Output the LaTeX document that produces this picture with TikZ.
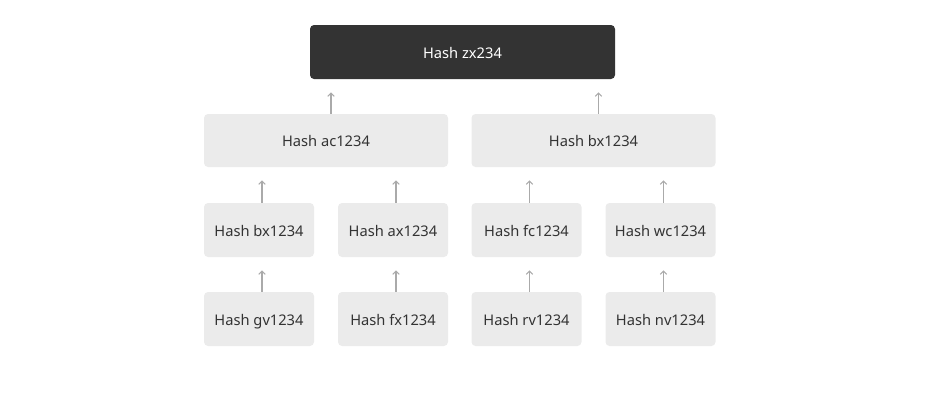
\documentclass[tikz,border=0pt]{standalone}
\usepackage{fontspec}
\setmainfont{Noto Sans}
\usetikzlibrary{arrows.meta}
\definecolor{darkbox}{HTML}{333333}
\definecolor{lightbox}{HTML}{EBEBEB}
\definecolor{txt}{HTML}{333333}
\definecolor{arrgray}{HTML}{AAAAAA}
\begin{document}
\begin{tikzpicture}[x=0.75pt,y=-0.75pt,
  base/.style={rounded corners=3pt, inner sep=0pt, font=\fontsize{11pt}{13pt}\selectfont, text=txt, fill=lightbox, text height=10pt, text depth=1pt},
  topbox/.style={base, fill=darkbox, text=white, minimum width=228.75pt, minimum height=40.5pt},
  midbox/.style={base, minimum width=183pt, minimum height=39.75pt},
  leafbox/.style={base, minimum width=82.5pt, minimum height=40.5pt},
  arr/.style={draw=arrgray, line width=0.8pt, -{Straight Barb[length=2.5pt,width=5pt]}}]
\useasboundingbox (0,0) rectangle (932,418);
\node[topbox] (top) at (462.5,52) {Hash zx234};
\node[midbox] (m1) at (326,140.5) {Hash ac1234};
\node[midbox] (m2) at (593.5,140.5) {Hash bx1234};
\node[leafbox] (a1) at (259,230) {Hash bx1234};
\node[leafbox] (a2) at (393,230) {Hash ax1234};
\node[leafbox] (a3) at (526.5,230) {Hash fc1234};
\node[leafbox] (a4) at (660.5,230) {Hash wc1234};
\node[leafbox] (b1) at (259,319) {Hash gv1234};
\node[leafbox] (b2) at (393,319) {Hash fx1234};
\node[leafbox] (b3) at (526.5,319) {Hash rv1234};
\node[leafbox] (b4) at (660.5,319) {Hash nv1234};
% arrows
\draw[arr, shorten >=9.75pt] ([xshift=3.75pt]m1.north) -- ([xshift=3.75pt]m1.north |- top.south);
\draw[arr, shorten >=9.75pt] ([xshift=3.75pt]m2.north) -- ([xshift=3.75pt]m2.north |- top.south);
\draw[arr, shorten >=9.75pt] ([xshift=2.25pt]a1.north) -- ([xshift=2.25pt]a1.north |- m1.south);
\draw[arr, shorten >=9.75pt] ([xshift=2.25pt]a2.north) -- ([xshift=2.25pt]a2.north |- m1.south);
\draw[arr, shorten >=9.75pt] ([xshift=2.25pt]a3.north) -- ([xshift=2.25pt]a3.north |- m2.south);
\draw[arr, shorten >=9.75pt] ([xshift=2.25pt]a4.north) -- ([xshift=2.25pt]a4.north |- m2.south);
\draw[arr, shorten >=9.75pt] ([xshift=2.25pt]b1.north) -- ([xshift=2.25pt]b1.north |- a1.south);
\draw[arr, shorten >=9.75pt] ([xshift=2.25pt]b2.north) -- ([xshift=2.25pt]b2.north |- a2.south);
\draw[arr, shorten >=9.75pt] ([xshift=2.25pt]b3.north) -- ([xshift=2.25pt]b3.north |- a3.south);
\draw[arr, shorten >=9.75pt] ([xshift=2.25pt]b4.north) -- ([xshift=2.25pt]b4.north |- a4.south);
\end{tikzpicture}
\end{document}
